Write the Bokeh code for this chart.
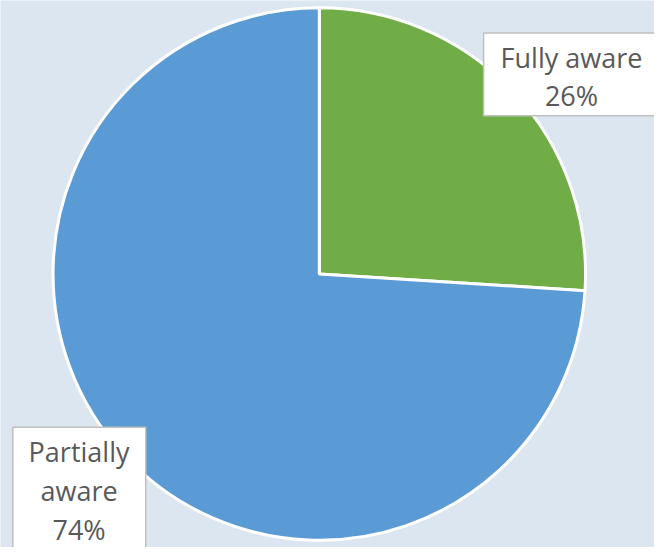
import math
from bokeh.plotting import figure
from bokeh.models import ColumnDataSource, Range1d
from bokeh.core.properties import value
from bokeh.embed import file_html
from bokeh.resources import INLINE

categories = ["Fully aware", "Partially aware"]
values = [26, 74]
colors = ["#70ad47", "#5b9bd5"]
pct_labels = ["26%", "74%"]

# data space matches the 662x555 reference frame; figure fits the window
RW, RH = 662, 555
W, H = 654, 547
p = figure(width=W, height=H, output_backend="svg", toolbar_location=None,
           x_range=Range1d(0, RW), y_range=Range1d(0, RH), min_border=0)
p.axis.visible = False
p.grid.visible = False
p.outline_line_color = None
p.background_fill_color = "#dce6f1"
p.border_fill_color = "#dce6f1"

total = sum(values)
starts, ends = [], []
a = math.pi / 2
for v in values:
    starts.append(a)
    a -= v / total * 2 * math.pi
    ends.append(a)

src = ColumnDataSource(dict(cat=categories, val=values, color=colors,
                            start=starts, end=ends))
cx, cy, r = 322.7, 277.5, 269.5
p.wedge(x=cx, y=cy, radius=r, start_angle="start",
        end_angle="end", direction="clock", fill_color="color",
        line_color="white", line_width=3, source=src)

# label boxes
box_src = ColumnDataSource(dict(left=[489, 12.5], right=[664, 147],
                                top=[522, 122], bottom=[438, -10]))
p.quad(left="left", right="right", top="top", bottom="bottom", source=box_src,
       fill_color="white", line_color="#bfbfbf", line_width=1.5)

lines_src = ColumnDataSource(dict(
    x=[578, 578, 79.5, 79.5, 79.5],
    y=[497, 459, 97, 58, 18],
    t=["Fully aware", pct_labels[0], "Partially", "aware", pct_labels[1]]))
p.text(x="x", y="y", text="t", source=lines_src, text_font=value("Open Sans"),
       text_font_size="27px", text_color="#595959", text_align="center",
       text_baseline="middle")

open("out.html", "w").write(file_html(p, INLINE))
